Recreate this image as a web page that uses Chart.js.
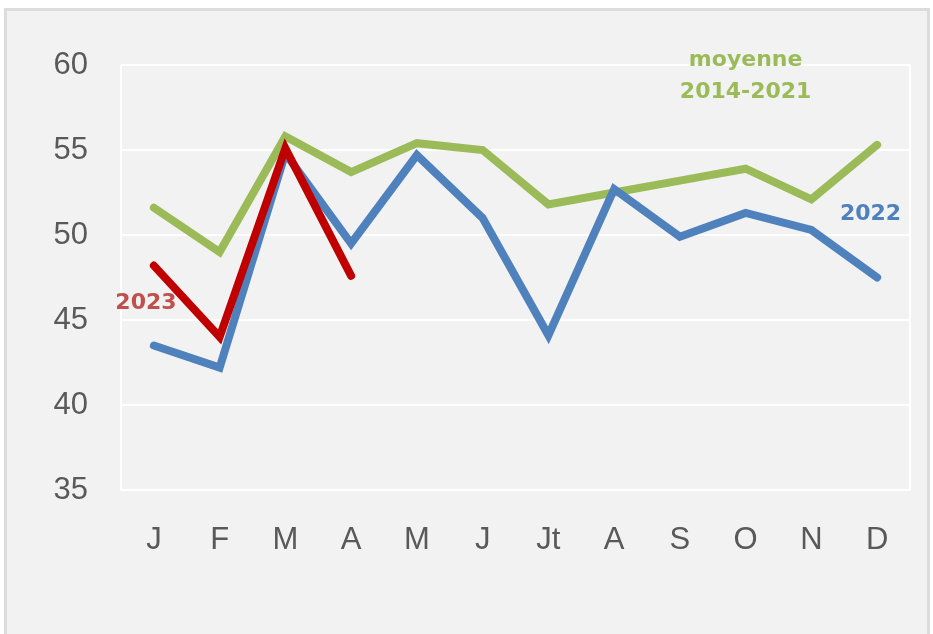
<!DOCTYPE html>
<html>
<head>
<meta charset="utf-8">
<script src="https://cdn.jsdelivr.net/npm/chart.js@4/dist/chart.umd.min.js"></script>
<style>
  html, body { margin: 0; padding: 0; background: #ffffff; }
  #frame {
    position: absolute; left: 4px; top: 8px; width: 920px; height: 640px;
    background: #f2f2f2; border: 3px solid #dcdcdc;
  }
  #wrap { position: absolute; left: 0; top: 0; width: 933px; height: 634px; }
</style>
</head>
<body>
<div id="frame"></div>
<div id="wrap"><canvas id="chart" width="933" height="634"></canvas></div>
<script>
// Data
const months = ['J', 'F', 'M', 'A', 'M', 'J', 'Jt', 'A', 'S', 'O', 'N', 'D'];
const avg2014_2021 = [51.6, 49.0, 55.8, 53.7, 55.4, 55.0, 51.8, 52.5, 53.2, 53.9, 52.1, 55.3];
const values2022 = [43.5, 42.2, 54.8, 49.5, 54.7, 51.0, 44.1, 52.7, 49.9, 51.3, 50.3, 47.5];
const values2023 = [48.2, 44.0, 55.1, 47.6];
const yTicks = [35, 40, 45, 50, 55, 60];

// Series labels placed through the scales: [text lines, x index, y value, colour]
const seriesLabels = [
    { lines: ['moyenne', '2014-2021'], x: 9, y: 60.3, color: '#9bbb59' },
    { lines: ['2022'], x: 10.9, y: 51.2, color: '#4f81bd' },
    { lines: ['2023'], x: -0.12, y: 46.0, color: '#c0504d' }
];

const labelPlugin = {
    id: 'seriesLabels',
    afterDatasetsDraw(chart) {
        const ctx = chart.ctx;
        const xs = chart.scales.x, ys = chart.scales.y;
        ctx.save();
        ctx.font = 'bold 22px "DejaVu Sans", Arial, sans-serif';
        ctx.textAlign = 'center';
        ctx.textBaseline = 'middle';
        seriesLabels.forEach(l => {
            const px = xs.getPixelForValue(l.x);
            const py = ys.getPixelForValue(l.y);
            ctx.fillStyle = l.color;
            l.lines.forEach((t, i) => ctx.fillText(t, px, py + i * 32));
        });
        ctx.restore();
    }
};

const framePlugin = {
    id: 'plotFrame',
    beforeDatasetsDraw(chart) {
        const a = chart.chartArea;
        const ctx = chart.ctx;
        ctx.save();
        ctx.strokeStyle = '#ffffff';
        ctx.lineWidth = 2;
        ctx.beginPath();
        ctx.moveTo(a.left, a.top);
        ctx.lineTo(a.left, a.bottom);
        ctx.moveTo(a.right, a.top);
        ctx.lineTo(a.right, a.bottom);
        ctx.stroke();
        ctx.restore();
    }
};

const lineStyle = {
    borderWidth: 8,
    pointRadius: 0,
    pointHoverRadius: 0,
    tension: 0,
    fill: false,
    borderCapStyle: 'round',
    borderJoinStyle: 'miter'
};

new Chart(document.getElementById('chart').getContext('2d'), {
    type: 'line',
    data: {
        labels: months,
        datasets: [
            Object.assign({ label: 'moyenne 2014-2021', data: avg2014_2021, borderColor: '#9bbb59', order: 3 }, lineStyle),
            Object.assign({ label: '2022', data: values2022, borderColor: '#4f81bd', order: 2 }, lineStyle),
            Object.assign({ label: '2023', data: values2023, borderColor: '#c00000', order: 1 }, lineStyle)
        ]
    },
    options: {
        responsive: false,
        animation: false,
        layout: { padding: { left: 0, right: 23, top: 65, bottom: 44 } },
        plugins: {
            legend: { display: false },
            tooltip: { enabled: false }
        },
        scales: {
            x: {
                offset: true,
                grid: { display: false, drawTicks: false },
                border: { display: false },
                ticks: {
                    color: '#595959',
                    font: { family: '"Liberation Sans", Arial, sans-serif', size: 31 },
                    padding: 32,
                    maxRotation: 0,
                    autoSkip: false
                },
                afterFit(scale) { scale.height = 100; }
            },
            y: {
                min: 35,
                max: 60,
                afterBuildTicks(scale) { scale.ticks = yTicks.map(v => ({ value: v })); },
                grid: { color: '#ffffff', lineWidth: 2, drawTicks: false },
                border: { display: false },
                ticks: {
                    color: '#595959',
                    font: { family: '"Liberation Sans", Arial, sans-serif', size: 31 },
                    padding: 33
                },
                afterFit(scale) { scale.width = 121; }
            }
        }
    },
    plugins: [framePlugin, labelPlugin]
});
</script>
</body>
</html>
